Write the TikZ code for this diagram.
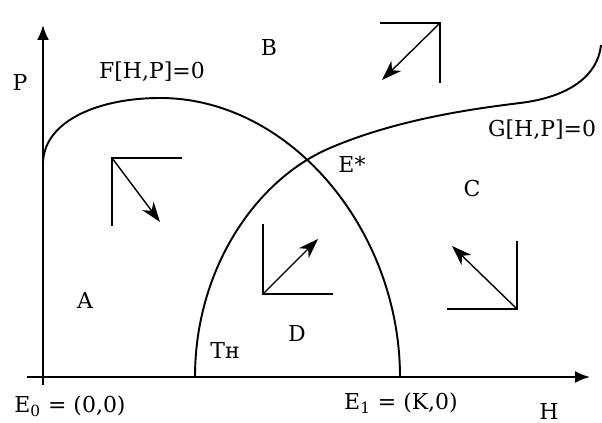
\documentclass[tikz,border=0pt]{standalone}
\usepackage{fontspec}
\setmainfont{DejaVu Serif}
\usepackage{tikz}
\usetikzlibrary{arrows.meta,positioning,calc}
\tikzset{
  axis/.style={-{Latex[length=3mm,width=2.4mm]}, line width=1.1pt, draw=black},
  curve/.style={line width=1.1pt, draw=black},
  corner/.style={line width=1.1pt, draw=black},
  flow/.style={-{Stealth[length=4mm,width=2.8mm,inset=1.2mm]}, line width=0.8pt, draw=black},
  lab/.style={font=\fontsize{12.5}{15}\selectfont, inner sep=1pt},
}

\begin{document}
\begin{tikzpicture}
    \useasboundingbox (-0.86,-0.92) rectangle (11.18,7.54);
    % axes
    \coordinate (O) at (0,0);
    \coordinate (hL) at (-0.32,0);
    \coordinate (hR) at (10.94,0);
    \coordinate (vB) at (0,-0.16);
    \coordinate (vT) at (0,7.04);
    \draw[axis] (hL) -- (hR);
    \draw[axis] (vB) -- (vT);
    % isoclines
    \coordinate (f0) at (0,4.30);
    \coordinate (fTop) at (2.34,5.58);
    \coordinate (E1) at (7.14,0);
    \draw[curve] (f0) .. controls (0.04,5.14) and (1.14,5.58) .. (fTop)
                      .. controls (4.94,5.58) and (7.14,2.94) .. (E1);
    \coordinate (Tn) at (3.04,0);
    \coordinate (g1) at (5.74,4.58);
    \coordinate (g2) at (9.54,5.48);
    \coordinate (gEnd) at (11.16,6.64);
    \draw[curve] (Tn) .. controls (3.04,2.14) and (4.24,3.94) .. (g1)
                      .. controls (7.14,5.18) and (8.74,5.38) .. (g2)
                      .. controls (10.54,5.60) and (11.10,6.04) .. (gEnd);
    % direction fields
    \coordinate (cA) at (1.38,4.38);
    \draw[corner] (2.78,4.38) -- (cA) -- (1.38,3.02);
    \draw[flow] (cA) -- (2.34,3.10);
    \coordinate (cB) at (7.94,7.08);
    \draw[corner] (6.74,7.08) -- (cB) -- (7.94,5.88);
    \draw[flow] (cB) -- (6.78,5.94);
    \coordinate (cD) at (4.40,1.66);
    \draw[corner] (4.40,3.06) -- (cD) -- (5.80,1.66);
    \draw[flow] (cD) -- (5.50,2.76);
    \coordinate (cC) at (9.48,1.36);
    \draw[corner] (9.48,2.72) -- (cC) -- (8.08,1.36);
    \draw[flow] (cC) -- (8.18,2.62);
    % labels
    \node[lab] (labP) at (-0.46,5.90) {P};
    \node[lab] (labH) at (10.12,-0.68) {H};
    \node[lab] (labF) at (2.18,6.10) {F[H,P]=0};
    \node[lab] (labG) at (9.98,4.94) {G[H,P]=0};
    \node[lab] (labEs) at (6.18,4.26) {E*};
    \node[lab] (labA) at (0.84,1.54) {A};
    \node[lab] (labB) at (4.52,6.60) {B};
    \node[lab] (labC) at (8.58,3.76) {C};
    \node[lab] (labD) at (5.08,0.88) {D};
    \node[lab] (labTn) at (3.64,0.54) {Tн};
    \node[lab] (labE0) at (0.54,-0.58) {E\textsubscript{0} = (0,0)};
    \node[lab] (labE1) at (7.16,-0.52) {E\textsubscript{1} = (K,0)};
  \end{tikzpicture}
\end{document}
